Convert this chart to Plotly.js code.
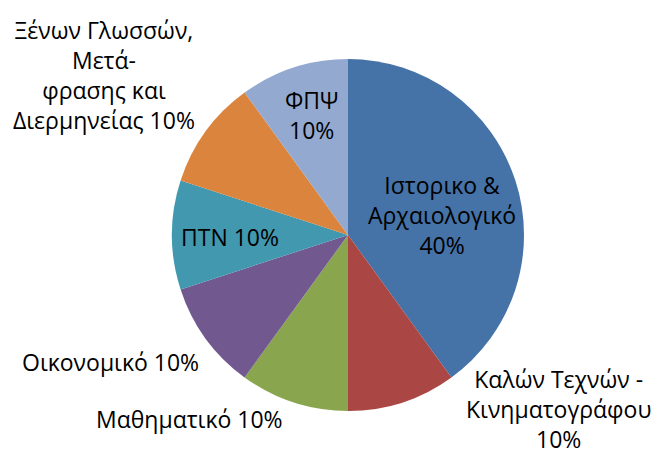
<!DOCTYPE html>
<html><head><meta charset="utf-8">
<script src="https://cdn.plot.ly/plotly-3.0.1.min.js"></script>
<style>html,body{margin:0;padding:0;background:#fff}#chart{width:654px;height:454px}</style>
</head><body><div id="chart"></div>
<script>
const labels = ["Ιστορικο & Αρχαιολογικό", "Καλών Τεχνών - Κινηματογράφου", "Μαθηματικό", "Οικονομικό", "ΠΤΝ", "Ξένων Γλωσσών, Μετά-φρασης και Διερμηνείας", "ΦΠΨ"];
const values = [40, 10, 10, 10, 10, 10, 10];
const labelLines = [
  "Ιστορικο &<br>Αρχαιολογικό<br>",
  "Καλών Τεχνών -<br>Κινηματογράφου<br>",
  "Μαθηματικό ",
  "Οικονομικό ",
  "ΠΤΝ ",
  "Ξένων Γλωσσών,<br>Μετά-<br>φρασης και<br>Διερμηνείας ",
  "ΦΠΨ<br>"
];
const colors = ["#4572A7", "#AA4643", "#89A54E", "#71588F", "#4198AF", "#DB843D", "#93A9CF"];

// label anchor positions in pixels (layout only)
const W = 654, H = 454;
const labelPos = [[442, 215], [558, 409], [189, 419], [110, 362], [230, 237], [104, 75], [311, 115]];

const total = values.reduce((a, b) => a + b, 0);
const annotations = labels.map((l, i) => ({
  text: labelLines[i] + Math.round(values[i] / total * 100) + "%",
  x: labelPos[i][0] / W, y: 1 - labelPos[i][1] / H,
  xref: "paper", yref: "paper", showarrow: false,
  xanchor: "center", yanchor: "middle", align: "center",
  font: {family: "Open Sans, sans-serif", size: 23, color: "#000"}
}));

const R = 176, cx = 348, cy = 235;
Plotly.newPlot("chart", [{
  type: "pie", labels: labels, values: values, sort: false,
  direction: "clockwise", rotation: 0, textinfo: "none", hoverinfo: "label+percent",
  marker: {colors: colors, line: {width: 0}},
  domain: {x: [(cx - R) / W, (cx + R) / W], y: [1 - (cy + R) / H, 1 - (cy - R) / H]}
}], {
  width: W, height: H, margin: {l: 0, r: 0, t: 0, b: 0},
  showlegend: false, paper_bgcolor: "#fff", annotations: annotations
}, {displayModeBar: false});
</script></body></html>
